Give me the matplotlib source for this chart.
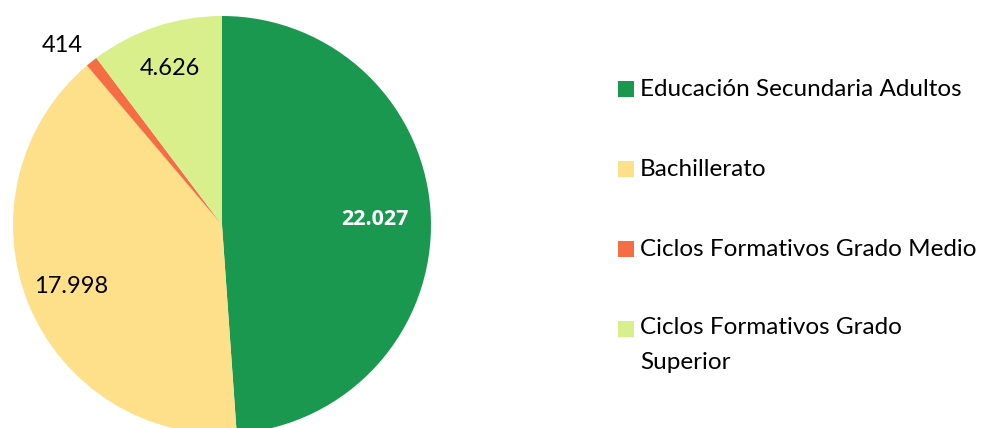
import numpy as np
import matplotlib
matplotlib.use("Agg")
import matplotlib.pyplot as plt
from matplotlib.patches import Rectangle

categories = ["Educación Secundaria Adultos", "Bachillerato",
              "Ciclos Formativos Grado Medio", "Ciclos Formativos Grado\nSuperior"]
values = [22027, 17998, 414, 4626]
colors = ["#1A9850", "#FEE08B", "#F46D43", "#D9EF8B"]

plt.rcParams['font.family'] = ['Lato', 'DejaVu Sans']

W, H = 981, 428
fig = plt.figure(figsize=(W / 100, H / 100), dpi=100)
cx, cy, R = 222, 225, 209
ax = fig.add_axes([(cx - R) / W, (H - cy - R) / H, 2 * R / W, 2 * R / H])
ax.pie(values, colors=colors, startangle=90, counterclock=False, radius=1,
       wedgeprops=dict(linewidth=0))
ax.set_xlim(-1, 1)
ax.set_ylim(-1, 1)
ax.set_aspect('equal')
ax.axis('off')

total = sum(values)
label_r = [0.73, 0.78, 1.15, 0.79]
label_dang = [0, 0, 3.0, 0]
label_colors = ["white", "black", "black", "black"]
label_weights = ["bold", "normal", "normal", "normal"]
start = 90.0
for v, r, da, c, w in zip(values, label_r, label_dang, label_colors, label_weights):
    span = v / total * 360
    mid = np.deg2rad(start - span / 2 + da)
    start -= span
    txt = f"{v:,}".replace(",", ".")
    fam = ['Open Sans', 'DejaVu Sans'] if w == "bold" else ['Lato', 'DejaVu Sans']
    ax.text(r * np.cos(mid), r * np.sin(mid), txt, ha='center', va='center',
            fontsize=17 if w != "bold" else 15.5, color=c, fontweight=w,
            family=fam, clip_on=False)

# legend
rows_y = [89, 169, 249, 329]
for lab, col, y in zip(categories, colors, rows_y):
    fig.patches.append(Rectangle((618 / W, (H - y - 8) / H), 16 / W, 16 / H,
                                 transform=fig.transFigure, facecolor=col,
                                 edgecolor='none'))
    if '\n' in lab:
        fig.text(640 / W, (H - y + 12) / H, lab, ha='left', va='top',
                 fontsize=17.5, linespacing=1.85)
    else:
        fig.text(640 / W, (H - y) / H, lab, ha='left', va='center', fontsize=17.5)

fig.savefig("out.png", dpi=100)
